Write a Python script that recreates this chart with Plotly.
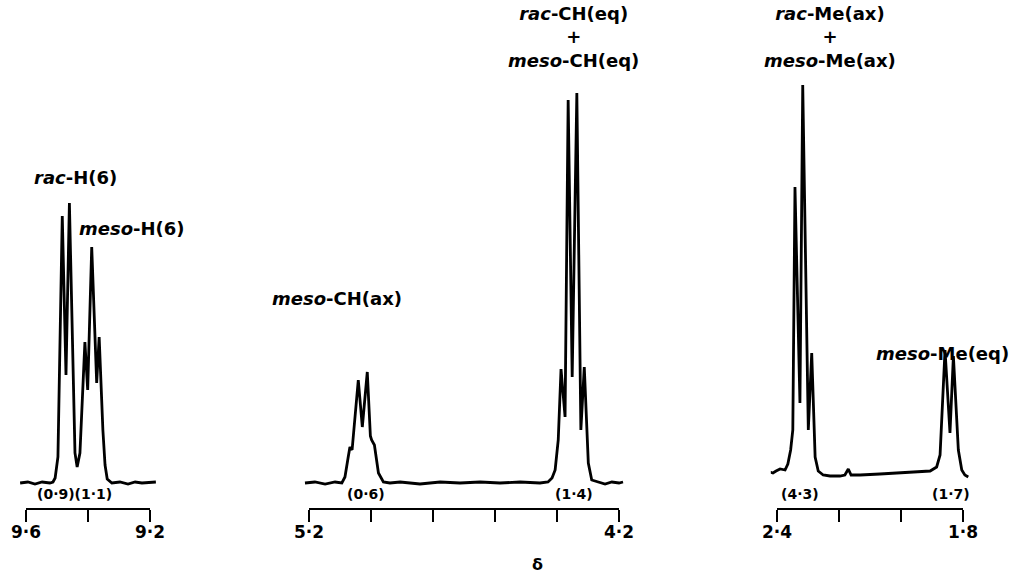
import plotly.graph_objects as go

# ---------------- data ----------------
# chemical shift (ppm) and relative intensity (arbitrary units)
p1_ppm = [9.619, 9.594, 9.571, 9.548, 9.523, 9.513, 9.506, 9.497, 9.483, 9.471,
          9.460, 9.442, 9.435, 9.426, 9.410, 9.401, 9.388, 9.372, 9.364, 9.352,
          9.345, 9.338, 9.323, 9.297, 9.271, 9.248, 9.226, 9.200, 9.181]
p1_int = [25, 26, 24, 26, 25, 26, 30, 51, 292, 133,
          305, 55, 41, 55, 166, 118, 261, 125, 171, 78,
          43, 29, 25, 26, 24, 26, 25, 26, 26]

p2_ppm = [5.213, 5.181, 5.148, 5.116, 5.094, 5.084, 5.074, 5.068, 5.061, 5.055,
          5.041, 5.028, 5.012, 5.002, 4.998, 4.989, 4.976, 4.960, 4.939, 4.906,
          4.842, 4.777, 4.713, 4.648, 4.584, 4.519, 4.455, 4.429, 4.416, 4.406,
          4.396, 4.387, 4.374, 4.364, 4.351, 4.336, 4.323, 4.312, 4.304, 4.299,
          4.288, 4.268, 4.245, 4.223, 4.200, 4.187]
p2_int = [25, 26, 24, 26, 25, 31, 50, 61, 58, 80,
          128, 81, 136, 72, 68, 63, 35, 26, 25, 26,
          24, 26, 25, 26, 25, 26, 25, 26, 30, 38,
          68, 139, 91, 408, 131, 415, 78, 141, 78, 45,
          28, 26, 24, 26, 25, 26]

p3_ppm = [2.423, 2.413, 2.403, 2.390, 2.374, 2.365, 2.356, 2.349, 2.342, 2.326,
          2.317, 2.299, 2.288, 2.283, 2.277, 2.267, 2.251, 2.229, 2.197, 2.181,
          2.170, 2.161, 2.132, 2.068, 2.003, 1.939, 1.906, 1.885, 1.874, 1.858,
          1.842, 1.831, 1.815, 1.804, 1.794, 1.783]
p3_int = [36, 35, 37, 39, 38, 44, 58, 78, 321, 105,
          423, 78, 155, 95, 51, 37, 33, 32, 32, 33,
          39, 33, 33, 34, 35, 36, 37, 41, 53, 158,
          75, 152, 58, 38, 33, 31]

p1_ticks = [9.6, 9.4, 9.2]
p1_ticktext = ["9·6", "", "9·2"]
p2_ticks = [5.2, 5.0, 4.8, 4.6, 4.4, 4.2]
p2_ticktext = ["5·2", "", "", "", "", "4·2"]
p3_ticks = [2.4, 2.2, 2.0, 1.8]
p3_ticktext = ["2·4", "", "", "1·8"]

integrals = ["(0·9)(1·1)", "(0·6)", "(1·4)", "(4·3)", "(1·7)"]
integral_ppm = [9.442, 5.016, 4.345, 2.326, 1.839]
integral_panel = [1, 2, 2, 3, 3]

labels = ["<i>rac</i>-H(6)", "<i>meso</i>-H(6)", "<i>meso</i>-CH(ax)",
          "<i>rac</i>-CH(eq)<br>+<br><i>meso</i>-CH(eq)",
          "<i>rac</i>-Me(ax)<br>+<br><i>meso</i>-Me(ax)",
          "<i>meso</i>-Me(eq)"]
label_ppm = [9.439, 9.258, 5.110, 4.348, 2.229, 1.866]
label_int = [331, 280, 210, 471, 471, 155]
label_panel = [1, 1, 2, 2, 3, 3]

# ---------------- layout ----------------
W, H = 1013, 577
BOTTOM = 69
PX_PER_PPM = 310.0
panel_start_px = [26, 309, 777]
PAD = 0.02
FONT = "DejaVu Sans"

panels = [(p1_ppm, p1_int, p1_ticks, p1_ticktext),
          (p2_ppm, p2_int, p2_ticks, p2_ticktext),
          (p3_ppm, p3_int, p3_ticks, p3_ticktext)]

fig = go.Figure()
layout = dict(
    width=W, height=H,
    margin=dict(l=0, r=0, t=0, b=BOTTOM, pad=0, autoexpand=False),
    paper_bgcolor="white", plot_bgcolor="rgba(0,0,0,0)",
    showlegend=False,
    yaxis=dict(range=[0, H - BOTTOM], domain=[0, 1], visible=False,
               fixedrange=True, automargin=False),
)

for i, (xs, ys, tv, tt) in enumerate(panels):
    vis = i + 1           # visible axis with ticks
    dat = i + 4           # hidden data axis (slightly wider, same scale)
    hi, lo = max(tv), min(tv)
    start = panel_start_px[i]
    end = start + (hi - lo) * PX_PER_PPM
    layout["xaxis" if vis == 1 else f"xaxis{vis}"] = dict(
        domain=[start / W, end / W], range=[hi, lo], anchor="y",
        tickmode="array", tickvals=tv, ticktext=tt,
        ticks="outside", ticklen=12, tickwidth=2, tickcolor="black",
        ticklabelstandoff=-4,
        showline=True, linewidth=2, linecolor="black",
        showgrid=False, zeroline=False, automargin=False, fixedrange=True,
        tickfont=dict(family=FONT, size=17, color="black", weight="bold"),
    )
    layout[f"xaxis{dat}"] = dict(
        domain=[(start - PAD * PX_PER_PPM) / W, (end + PAD * PX_PER_PPM) / W],
        range=[hi + PAD, lo - PAD], anchor="y", visible=False,
        automargin=False, fixedrange=True,
    )
    # empty trace so the visible tick axis gets its own subplot
    fig.add_trace(go.Scatter(x=[], y=[], mode="lines", xaxis=f"x{vis}", yaxis="y",
                             hoverinfo="skip"))
    fig.add_trace(go.Scatter(x=xs, y=ys, mode="lines", xaxis=f"x{dat}", yaxis="y",
                             line=dict(color="black", width=2.8, shape="linear"),
                             hoverinfo="skip"))

annotations = []
for txt, xp, pn in zip(integrals, integral_ppm, integral_panel):
    annotations.append(dict(text=f"<b>{txt}</b>", x=xp, y=14, xref=f"x{pn+3}", yref="y",
                            showarrow=False, xanchor="center", yanchor="middle",
                            font=dict(family=FONT, size=14, color="black")))
for txt, xp, yp, pn in zip(labels, label_ppm, label_int, label_panel):
    annotations.append(dict(text=f"<b>{txt}</b>", x=xp, y=yp, xref=f"x{pn+3}", yref="y",
                            showarrow=False, xanchor="center", yanchor="middle",
                            align="center",
                            font=dict(family=FONT, size=18, color="black")))
annotations.append(dict(text="<b>δ</b>", x=537 / W, y=-(564 - (H - BOTTOM)) / (H - BOTTOM),
                        xref="paper", yref="paper", showarrow=False,
                        xanchor="center", yanchor="middle",
                        font=dict(family=FONT, size=16, color="black")))
layout["annotations"] = annotations

fig.update_layout(**layout)
fig.write_html("out.html",
               config={"displayModeBar": False, "responsive": False},
               post_script="document.body.style.margin='0';document.body.style.overflow='hidden';")
